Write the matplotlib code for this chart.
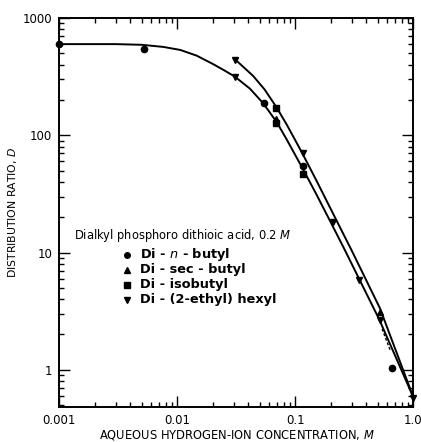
"""Distribution ratio vs aqueous hydrogen-ion concentration (dialkyl phosphoro dithioic acids)"""

import matplotlib
matplotlib.use("Agg")
import matplotlib.pyplot as plt
from matplotlib.ticker import LogLocator, NullFormatter, FixedFormatter, FixedLocator

# curves
lowerX = [0.001, 0.003, 0.005, 0.0076, 0.0106, 0.0146, 0.0201, 0.025, 0.0308,
          0.0412, 0.0533, 0.0693, 0.085, 0.113, 0.15, 0.196, 0.26, 0.34, 0.512, 1.0]
lowerY = [600, 600, 592, 568, 535, 478, 405, 358, 316,
          250, 188, 130, 91, 54, 31.6, 18.7, 10.7, 6.2, 2.7, 0.58]
upperX = [0.0308, 0.044, 0.055, 0.0693, 0.085, 0.113, 0.15, 0.215, 0.30, 0.52, 1.0]
upperY = [445, 320, 245, 173, 122, 72, 41.5, 20.2, 10.4, 3.35, 0.58]
dashX = [0.543, 0.638]
dashY = [2.23, 1.45]

# data points
nButylX = [0.001, 0.0052, 0.054, 0.115, 0.66]
nButylY = [600, 550, 189, 55, 1.03]
secButylX = [0.069, 0.52]
secButylY = [138, 3.1]
isoButylX = [0.069, 0.115, 0.069]
isoButylY = [170, 46.5, 127]
ethylHexylX = [0.031, 0.031, 0.115, 0.207, 0.344, 0.52, 1.0]
ethylHexylY = [437, 315, 71, 18.2, 5.85, 2.65, 0.57]

legendLabels = ["Di - $n$ - butyl", "Di - sec - butyl", "Di - isobutyl", "Di - (2-ethyl) hexyl"]
legendMarkers = ["o", "^", "s", "v"]

fig = plt.figure(figsize=(4.21, 4.42), dpi=100)
ax = fig.add_axes([0.141, 0.079, 0.841, 0.880])

ax.plot(lowerX, lowerY, color="black", lw=1.4)
ax.plot(upperX, upperY, color="black", lw=1.4)
ax.plot(dashX, dashY, color="black", lw=1.0, ls=(0, (2, 1.5)))

ms = 4.5
ax.plot(nButylX, nButylY, "o", color="black", ms=ms, clip_on=False)
ax.plot(secButylX, secButylY, "^", color="black", ms=ms)
ax.plot(isoButylX, isoButylY, "s", color="black", ms=ms - 0.5)
ax.plot(ethylHexylX, ethylHexylY, "v", color="black", ms=ms, clip_on=False)

ax.set_xscale("log")
ax.set_yscale("log")
ax.set_xlim(0.001, 1.0)
ax.set_ylim(0.48, 1000)

ax.xaxis.set_major_locator(FixedLocator([0.001, 0.01, 0.1, 1.0]))
ax.xaxis.set_major_formatter(FixedFormatter(["0.001", "0.01", "0.1", "1.0"]))
ax.yaxis.set_major_locator(FixedLocator([1, 10, 100, 1000]))
ax.yaxis.set_major_formatter(FixedFormatter(["1", "10", "100", "1000"]))
ax.xaxis.set_minor_locator(LogLocator(base=10, subs=range(2, 10)))
ax.yaxis.set_minor_locator(LogLocator(base=10, subs=range(2, 10)))
ax.xaxis.set_minor_formatter(NullFormatter())
ax.yaxis.set_minor_formatter(NullFormatter())

ax.tick_params(which="both", direction="in", top=True, right=True, width=1.0)
ax.tick_params(which="major", length=8, labelsize=8.5, pad=5)
ax.tick_params(which="minor", length=3.5)
for s in ax.spines.values():
    s.set_linewidth(1.4)

ax.set_xlabel("AQUEOUS HYDROGEN-ION CONCENTRATION, $M$", fontsize=8.3)
ax.set_ylabel("DISTRIBUTION RATIO, $D$", fontsize=7.8)
ax.xaxis.set_label_coords(0.5, -0.055)
ax.yaxis.set_label_coords(-0.113, 0.5)

# hand-placed legend like the original
ax.text(0.04, 0.44, "Dialkyl phosphoro dithioic acid, 0.2 $M$", transform=ax.transAxes,
        fontsize=8.3, va="center")
for i, (lab, mk) in enumerate(zip(legendLabels, legendMarkers)):
    yy = 0.392 - i * 0.0385
    ax.plot([0.192], [yy], mk, color="black", ms=4.0, transform=ax.transAxes)
    ax.text(0.228, yy, lab, transform=ax.transAxes, fontsize=9.3, va="center",
            fontweight="bold")

fig.savefig("out.png", dpi=100)
